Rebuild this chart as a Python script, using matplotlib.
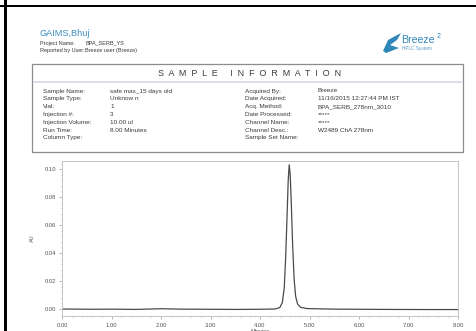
import matplotlib
matplotlib.use("Agg")
import matplotlib.pyplot as plt
from matplotlib.patches import Rectangle, Polygon
from matplotlib.ticker import MultipleLocator, FormatStrFormatter

W, H = 476, 331

# Chromatogram trace: retention time (min) and absorbance (AU)
time_min = [0.00, 0.60, 1.00, 1.50, 2.00, 2.40, 3.00, 3.50, 4.00, 4.30,
            4.40, 4.45, 4.49, 4.52, 4.55, 4.57, 4.59, 4.61, 4.63, 4.66,
            4.69, 4.72, 4.76, 4.82, 4.95, 5.50, 6.50, 7.50, 8.00]
absorbance = [0.0000, -0.0002, -0.0001, -0.0003, 0.0002, -0.0001, -0.0002, -0.0003, -0.0002, 0.0000,
              0.0010, 0.0045, 0.0150, 0.0380, 0.0700, 0.0920, 0.1030, 0.0960, 0.0780, 0.0450,
              0.0210, 0.0090, 0.0035, 0.0012, 0.0003, -0.0001, -0.0003, -0.0004, -0.0004]

x_ticks = [0, 1, 2, 3, 4, 5, 6, 7, 8]
y_ticks = [0.00, 0.02, 0.04, 0.06, 0.08, 0.10]

header_fields = [("Project Name:", "BPA_SERB_YS"),
                 ("Reported by User:", "Breeze user (Breeze)")]
left_fields = [("Sample Name:", "safe max_15 days old"),
               ("Sample Type:", "Unknow n"),
               ("Vial:", "1"),
               ("Injection #:", "3"),
               ("Injection Volume:", "10.00 ul"),
               ("Run Time:", "8.00 Minutes"),
               ("Column Type:", "")]
right_fields = [("Acquired By:", "Breeze"),
                ("Date Acquired:", "11/16/2015 12:27:44 PM IST"),
                ("Acq. Method:", "BPA_SERB_278nm_3010"),
                ("Date Processed:", "*****"),
                ("Channel Name:", "*****"),
                ("Channel Desc.:", "W2489 ChA 278nm"),
                ("Sample Set Name:", "")]

fig = plt.figure(figsize=(W / 100, H / 100), dpi=100)
fig.patch.set_facecolor("white")
plt.rcParams["font.family"] = ["Liberation Sans", "DejaVu Sans"]


def fx(x):
    return x / W


def fy(y):
    return 1 - y / H


def txt(x, y, s, size=4.6, color="#3a3a3a", **kw):
    fig.text(fx(x), fy(y), s, fontsize=size, color=color, va="center", **kw)


# page frame lines
fig.add_artist(Rectangle((fx(3.5), 0), 3 / W, 1, transform=fig.transFigure,
                         facecolor="black", edgecolor="none"))
fig.add_artist(Rectangle((0, fy(7)), 1, 2.5 / H, transform=fig.transFigure,
                         facecolor="black", edgecolor="none"))

# report header
txt(40, 33, "GAIMS,Bhuj", size=6.6, color="#3b8fbf")
for i, (lab, val) in enumerate(header_fields):
    y = 43 + i * 7.5
    txt(40, y, lab, size=4.0)
    txt(85, y, val, size=4.0)

# product logo
swoosh = Polygon([[fx(383), fy(51)], [fx(388), fy(40)], [fx(401), fy(33)],
                  [fx(397), fy(40)], [fx(390), fy(45)], [fx(399), fy(48)],
                  [fx(386), fy(53)]], closed=True, transform=fig.transFigure,
                 facecolor="#2f86b8", edgecolor="none")
fig.add_artist(swoosh)
txt(401, 40, "Breeze", size=7.6, color="#2f86b8")
txt(436.5, 36.5, "2", size=5.0, color="#2f86b8")
txt(402, 48.5, "HPLC System", size=3.4, color="#5a9ac4")

# sample information box
fig.add_artist(Rectangle((fx(32), fy(152)), (463 - 32) / W, (152 - 64) / H,
                         transform=fig.transFigure, facecolor="white",
                         edgecolor="#8c8c8c", linewidth=0.9))
fig.add_artist(Rectangle((fx(33), fy(83)), (462 - 33) / W, 1.6 / H,
                         transform=fig.transFigure, facecolor="#dcdcf0",
                         edgecolor="none"))
fig.text(fx(250), fy(73), "S  A  M  P  L  E     I  N  F  O  R  M  A  T  I  O  N",
         fontsize=6.4, color="#3a3a3a", ha="center", va="center")
for i, ((ll, lv), (rl, rv)) in enumerate(zip(left_fields, right_fields)):
    y = 91 + i * 7.8
    txt(43, y, ll)
    txt(110, y, lv)
    txt(245, y, rl)
    txt(318, y, rv)

# chromatogram axes
ax = fig.add_axes([fx(62), fy(316), (458 - 62) / W, (316 - 161) / H])
ax.plot(time_min, absorbance, color="#4a4a4a", linewidth=0.9)
ax.set_xlim(0, 8.0)
ax.set_ylim(-0.005, 0.1057)
ax.set_xticks(x_ticks)
ax.set_yticks(y_ticks)
ax.xaxis.set_major_formatter(FormatStrFormatter("%.2f"))
ax.yaxis.set_major_formatter(FormatStrFormatter("%.2f"))
ax.xaxis.set_minor_locator(MultipleLocator(0.2))
ax.yaxis.set_minor_locator(MultipleLocator(0.004))
ax.tick_params(which="both", labelsize=4.2, colors="#9a9a9a",
               labelcolor="#555555", width=0.5, direction="out")
ax.tick_params(which="major", length=2, pad=3)
ax.tick_params(which="minor", length=1)
ax.tick_params(axis="y", which="major", pad=2)
for sp in ax.spines.values():
    sp.set_color("#c4c4c4")
    sp.set_linewidth(0.7)
ax.set_ylabel("AU", fontsize=4.0, color="#555555", labelpad=7)
ax.set_xlabel("Minutes", fontsize=4.0, color="#555555", labelpad=1)

fig.savefig("out.png", dpi=100, facecolor="white")
